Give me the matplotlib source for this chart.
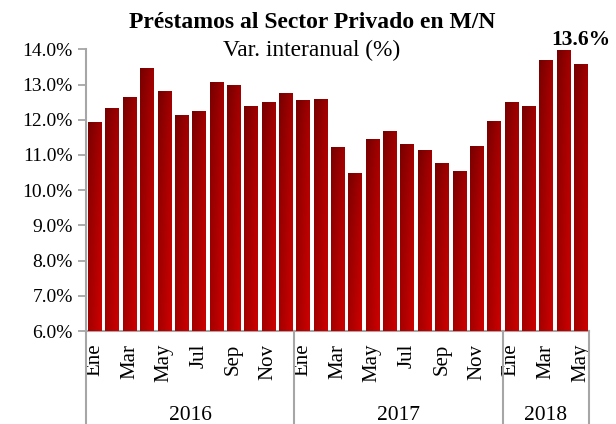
#!/usr/bin/env python3
"""Préstamos al Sector Privado en M/N - barras con degradado."""

import numpy as np
import matplotlib
matplotlib.use("Agg")
import matplotlib.pyplot as plt
from matplotlib.colors import LinearSegmentedColormap
from matplotlib.transforms import blended_transform_factory

plt.rcParams["font.family"] = ["Liberation Serif", "DejaVu Serif"]

# datos (var. interanual, %)
months = ["Ene", "Feb", "Mar", "Abr", "May", "Jun", "Jul", "Ago", "Sep", "Oct", "Nov", "Dic"] * 2 + \
         ["Ene", "Feb", "Mar", "Abr", "May"]
years = ["2016", "2017", "2018"]
year_sizes = [12, 12, 5]
values = [11.94, 12.34, 12.65, 13.47, 12.82, 12.14, 12.25, 13.07, 12.99, 12.39, 12.51, 12.76,
          12.57, 12.60, 11.23, 10.49, 11.46, 11.68, 11.31, 11.14, 10.77, 10.54, 11.26, 11.97,
          12.51, 12.39, 13.70, 13.98, 13.58]
last_label = "13.6%"

GRAY = "#a6a6a6"
cmap = LinearSegmentedColormap.from_list("rojo", ["#740000", "#cc0000"])

fig = plt.figure(figsize=(6.16, 4.24), dpi=100)
ax = fig.add_axes([0.1396, 0.2193, 0.9567 - 0.1396, 0.8837 - 0.2193])

x = np.arange(len(values))
bars = ax.bar(x, [v - 6 for v in values], bottom=6, width=0.76, color="#b00000", zorder=2)

# degradado diagonal dentro de cada barra
rows, cols = np.mgrid[0:1:60j, 0:1:12j]
grad = 0.55 * rows ** 0.6 + 0.45 * cols
for b in bars:
    x0, y0 = b.get_x(), b.get_y()
    im = ax.imshow(grad, cmap=cmap, vmin=0, vmax=1, aspect="auto", origin="upper",
                   extent=(x0, x0 + b.get_width(), y0, y0 + b.get_height()), zorder=3)
    im.set_clip_path(b)

ax.set_xlim(-0.5, len(values) - 0.5)
ax.set_ylim(6, 14)
ax.set_yticks(np.arange(6, 14.01, 1))
ax.set_yticklabels([f"{t:.1f}%" for t in np.arange(6, 14.01, 1)], fontsize=14)

shown = list(range(0, len(values), 2))
ax.set_xticks(shown)
ax.set_xticklabels([months[i] for i in shown], rotation=90, fontsize=15)
ax.tick_params(axis="x", length=0, pad=9)
ax.tick_params(axis="y", length=6, width=1.3, color=GRAY, direction="out")

for s in ["top", "right"]:
    ax.spines[s].set_visible(False)
for s in ["left", "bottom"]:
    ax.spines[s].set_color(GRAY)
    ax.spines[s].set_linewidth(1.5)

# eje de categorías con años
trans = blended_transform_factory(ax.transData, ax.transAxes)
edges = np.concatenate([[0], np.cumsum(year_sizes)]) - 0.5
for e in edges:
    ax.plot([e, e], [0, -0.35], transform=trans, color=GRAY, lw=1.5, clip_on=False)
for yr, a, b in zip(years, edges[:-1], edges[1:]):
    ax.text((a + b) / 2, -0.30, yr, transform=trans, ha="center", va="center", fontsize=15.5)

ax.annotate(last_label, (x[-1], values[-1]), xytext=(0, 24), textcoords="offset pixels",
            ha="center", va="center", fontsize=15.5, fontweight="bold")

fig.text(0.506, 0.947, "Préstamos al Sector Privado en M/N", ha="center", va="center",
         fontsize=17, fontweight="bold")
fig.text(0.506, 0.882, "Var. interanual (%)", ha="center", va="center", fontsize=16.8)

fig.savefig("out.png", dpi=100)
